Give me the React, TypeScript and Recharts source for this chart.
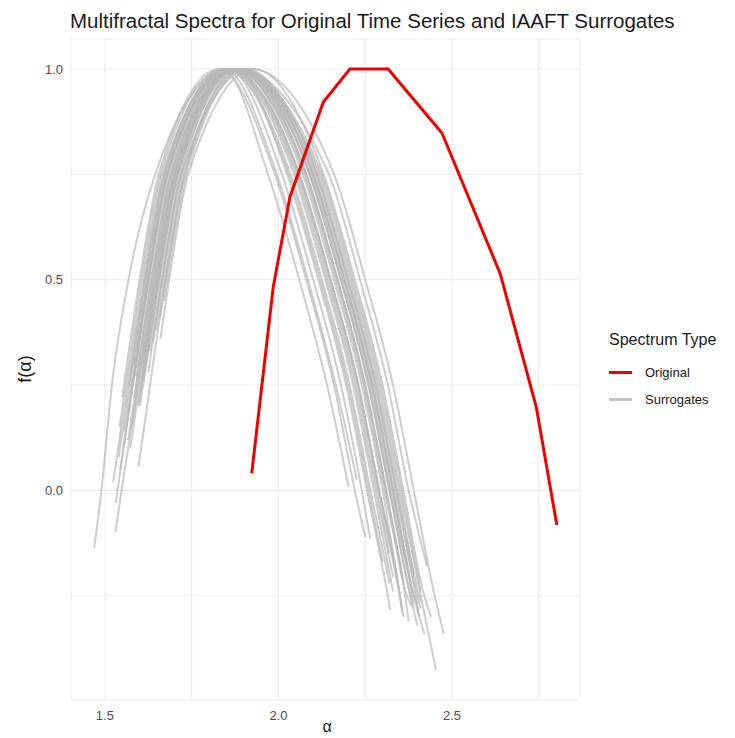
import React from 'react';
import { LineChart, Line, XAxis, YAxis, CartesianGrid, Legend, Label } from 'recharts';

const FONT = '"Liberation Sans", Arial, sans-serif';

const xTicks = [1.5, 1.75, 2.0, 2.25, 2.5, 2.75];
const yTicks = [-0.25, 0, 0.25, 0.5, 0.75, 1.0];
const xMajor = [1.5, 2.0, 2.5];
const yMajor = [0, 0.5, 1.0];

// [alpha, f(alpha)]
const originalSpectrum = [
  [1.923, 0.041], [1.985, 0.483], [2.033, 0.696], [2.129, 0.921], [2.206, 1.0],
  [2.316, 1.0], [2.471, 0.848], [2.639, 0.514], [2.743, 0.197], [2.802, -0.082],
];

const s01 = [[1.469, -0.137], [1.49, 0], [1.52, 0.25], [1.568, 0.5], [1.645, 0.75], [1.85, 1], [2.03, 0.75], [2.12, 0.5], [2.2, 0.25], [2.26, 0], [2.3, -0.17]];
const s02 = [[1.531, -0.03], [1.58, 0.25], [1.625, 0.5], [1.68, 0.75], [1.86, 1], [2.06, 0.75], [2.15, 0.5], [2.23, 0.25], [2.29, 0], [2.35, -0.25], [2.356, -0.29]];
const s03 = [[1.53, -0.1], [1.548, 0], [1.595, 0.25], [1.64, 0.5], [1.695, 0.75], [1.87, 1], [2.12, 0.75], [2.21, 0.5], [2.29, 0.25], [2.35, 0], [2.41, -0.25], [2.454, -0.426]];
const s04 = [[1.597, 0.057], [1.63, 0.25], [1.675, 0.5], [1.73, 0.75], [1.89, 1], [2.1, 0.75], [2.19, 0.5], [2.27, 0.25], [2.33, 0], [2.39, -0.25], [2.42, -0.34]];
const s05 = [[1.601, 0.2], [1.61, 0.25], [1.655, 0.5], [1.71, 0.75], [1.88, 1], [2.08, 0.75], [2.17, 0.5], [2.25, 0.25], [2.31, 0], [2.37, -0.25], [2.39, -0.28]];
const s06 = [[1.584, 0.3], [1.62, 0.5], [1.675, 0.75], [1.86, 1], [2.06, 0.75], [2.15, 0.5], [2.23, 0.25], [2.29, 0], [2.35, -0.25], [2.36, -0.3]];
const s07 = [[1.659, 0.41], [1.675, 0.5], [1.73, 0.75], [1.9, 1], [2.11, 0.75], [2.2, 0.5], [2.28, 0.25], [2.34, 0], [2.4, -0.25], [2.41, -0.28]];
const s08 = [[1.573, 0.1], [1.6, 0.25], [1.645, 0.5], [1.7, 0.75], [1.87, 1], [2.07, 0.75], [2.16, 0.5], [2.24, 0.25], [2.3, 0], [2.34, -0.2]];
const s09 = [[1.598, 0.21], [1.605, 0.25], [1.65, 0.5], [1.705, 0.75], [1.88, 1], [2.09, 0.75], [2.18, 0.5], [2.26, 0.25], [2.32, 0], [2.38, -0.25], [2.4, -0.32]];
const s10 = [[1.544, 0.05], [1.58, 0.25], [1.625, 0.5], [1.68, 0.75], [1.855, 1], [2.01, 0.75], [2.1, 0.5], [2.18, 0.25], [2.24, 0], [2.264, -0.113]];
const s11 = [[1.542, 0.15], [1.56, 0.25], [1.605, 0.5], [1.66, 0.75], [1.84, 1], [1.97, 0.75], [2.06, 0.5], [2.14, 0.25], [2.202, 0.009]];
const s12 = [[1.57, 0.25], [1.615, 0.5], [1.67, 0.75], [1.845, 1], [1.995, 0.75], [2.085, 0.5], [2.165, 0.25], [2.226, 0.025]];
const s13 = [[1.638, 0.35], [1.665, 0.5], [1.72, 0.75], [1.92, 1], [2.16, 0.75], [2.25, 0.5], [2.33, 0.25], [2.39, 0], [2.45, -0.25], [2.476, -0.34]];
const s14 = [[1.625, 0.28], [1.665, 0.5], [1.72, 0.75], [1.88, 1], [2.145, 0.75], [2.235, 0.5], [2.315, 0.25], [2.375, 0], [2.428, -0.18]];
const s15 = [[1.585, 0.22], [1.59, 0.25], [1.635, 0.5], [1.69, 0.75], [1.87, 1], [2.09, 0.75], [2.18, 0.5], [2.26, 0.25], [2.32, 0], [2.38, -0.25], [2.383, -0.26]];
const s16 = [[1.613, 0.32], [1.645, 0.5], [1.7, 0.75], [1.875, 1], [2.1, 0.75], [2.19, 0.5], [2.27, 0.25], [2.33, 0], [2.39, -0.25], [2.4, -0.27]];
const s17 = [[1.567, 0.12], [1.59, 0.25], [1.635, 0.5], [1.69, 0.75], [1.865, 1], [2.05, 0.75], [2.14, 0.5], [2.22, 0.25], [2.28, 0], [2.33, -0.205]];
const s18 = [[1.612, 0.26], [1.655, 0.5], [1.71, 0.75], [1.885, 1], [2.115, 0.75], [2.205, 0.5], [2.285, 0.25], [2.345, 0], [2.405, -0.25], [2.41, -0.264]];
const s19 = [[1.567, 0.18], [1.58, 0.25], [1.625, 0.5], [1.68, 0.75], [1.86, 1], [2.08, 0.75], [2.17, 0.5], [2.25, 0.25], [2.31, 0], [2.36, -0.217]];
const s20 = [[1.648, 0.38], [1.67, 0.5], [1.725, 0.75], [1.895, 1], [2.09, 0.75], [2.18, 0.5], [2.26, 0.25], [2.32, 0], [2.37, -0.18]];
const s21 = [[1.603, 0.24], [1.65, 0.5], [1.705, 0.75], [1.875, 1], [2.025, 0.75], [2.115, 0.5], [2.195, 0.25], [2.255, 0], [2.315, -0.25], [2.322, -0.283]];
const s22 = [[1.54, 0.08], [1.57, 0.25], [1.615, 0.5], [1.67, 0.75], [1.85, 1], [2.055, 0.75], [2.145, 0.5], [2.225, 0.25], [2.285, 0], [2.32, -0.15]];
const s23 = [[1.609, 0.3], [1.645, 0.5], [1.7, 0.75], [1.88, 1], [2.125, 0.75], [2.215, 0.5], [2.295, 0.25], [2.355, 0], [2.41, -0.24]];
const s24 = [[1.589, 0.27], [1.63, 0.5], [1.685, 0.75], [1.865, 1], [2.075, 0.75], [2.165, 0.5], [2.245, 0.25], [2.305, 0], [2.365, -0.25], [2.375, -0.31]];
const s25 = [[1.671, 0.45], [1.68, 0.5], [1.735, 0.75], [1.905, 1], [2.1, 0.75], [2.19, 0.5], [2.27, 0.25], [2.33, 0], [2.38, -0.22]];
const s26 = [[1.577, 0.15], [1.595, 0.25], [1.64, 0.5], [1.695, 0.75], [1.87, 1], [2.105, 0.75], [2.195, 0.5], [2.275, 0.25], [2.335, 0], [2.395, -0.25], [2.405, -0.3]];
const s27 = [[1.524, 0.02], [1.565, 0.25], [1.61, 0.5], [1.665, 0.75], [1.855, 1], [2.045, 0.75], [2.135, 0.5], [2.215, 0.25], [2.275, 0], [2.33, -0.24]];
const s28 = [[1.629, 0.33], [1.66, 0.5], [1.715, 0.75], [1.89, 1], [2.08, 0.75], [2.17, 0.5], [2.25, 0.25], [2.31, 0], [2.355, -0.19]];
const s29 = [[1.596, 0.2], [1.605, 0.25], [1.65, 0.5], [1.705, 0.75], [1.88, 1], [2.06, 0.75], [2.15, 0.5], [2.23, 0.25], [2.29, 0], [2.35, -0.25]];
const s30 = [[1.582, 0.26], [1.625, 0.5], [1.68, 0.75], [1.86, 1], [2.095, 0.75], [2.185, 0.5], [2.265, 0.25], [2.325, 0], [2.385, -0.25], [2.388, -0.27]];
const s31 = [[1.621, 0.31], [1.655, 0.5], [1.71, 0.75], [1.875, 1], [2.11, 0.75], [2.2, 0.5], [2.28, 0.25], [2.34, 0], [2.39, -0.2]];
const s32 = [[1.555, 0.14], [1.575, 0.25], [1.62, 0.5], [1.675, 0.75], [1.85, 1], [2.035, 0.75], [2.125, 0.5], [2.205, 0.25], [2.265, 0], [2.32, -0.22]];
const s33 = [[1.66, 0.36], [1.685, 0.5], [1.74, 0.75], [1.93, 1], [2.13, 0.75], [2.22, 0.5], [2.3, 0.25], [2.36, 0], [2.42, -0.25], [2.44, -0.3]];
const s34 = [[1.55, 0.22], [1.555, 0.25], [1.6, 0.5], [1.655, 0.75], [1.83, 1], [1.99, 0.75], [2.08, 0.5], [2.16, 0.25], [2.22, 0], [2.25, -0.11]];

const surrogates = [
  s01, s02, s03, s04, s05, s06, s07, s08, s09, s10, s11, s12, s13, s14, s15, s16, s17,
  s18, s19, s20, s21, s22, s23, s24, s25, s26, s27, s28, s29, s30, s31, s32, s33, s34,
];

const RED = '#F00000';
const GREY = '#B8B8B8';

const legendItems = [
  { name: 'Original', color: RED, width: 3 },
  { name: 'Surrogates', color: '#C4C4C4', width: 2.5 },
];

const toPoints = (arr: number[][]) => arr.map(([alpha, f]) => ({ alpha, f }));

const fmt = (major: number[]) => (v: number) =>
  major.some((m) => Math.abs(m - v) < 1e-9) ? v.toFixed(1) : '';

const renderLegend = () => (
  <div style={{ fontFamily: FONT, color: '#1a1a1a' }}>
    <div style={{ fontSize: 16, lineHeight: '18px', marginBottom: 10 }}>Spectrum Type</div>
    {legendItems.map((item) => (
      <div key={item.name} style={{ display: 'flex', alignItems: 'center', height: 27 }}>
        <div style={{ width: 23, height: item.width, background: item.color, marginRight: 13 }} />
        <span style={{ fontSize: 13 }}>{item.name}</span>
      </div>
    ))}
  </div>
);

export default function App() {
  return (
    <div style={{ position: 'absolute', left: 0, top: 0, width: 735, height: 738, background: '#fff' }}>
      <div
        style={{
          position: 'absolute', left: 70, top: 9, fontFamily: FONT, fontSize: 20.5,
          color: '#1a1a1a', whiteSpace: 'nowrap', zIndex: 1,
        }}
      >
        Multifractal Spectra for Original Time Series and IAAFT Surrogates
      </div>
      <LineChart width={735} height={738} margin={{ top: 39, right: 155, bottom: 0, left: 21 }}>
        <CartesianGrid stroke="#EBEBEB" strokeWidth={1} />
        <XAxis
          type="number"
          dataKey="alpha"
          domain={[1.4023, 2.8687]}
          allowDataOverflow
          ticks={xTicks}
          interval={0}
          tickFormatter={fmt(xMajor)}
          axisLine={false}
          tickLine={false}
          tickSize={0}
          tickMargin={11}
          height={38}
          tick={{ fill: '#4D4D4D', fontSize: 13, fontFamily: FONT }}
        >
          <Label
            content={() => (
              <text x={327} y={732} textAnchor="middle" fontSize={16} fontFamily={FONT} fill="#1a1a1a">
                α
              </text>
            )}
          />
        </XAxis>
        <YAxis
          type="number"
          dataKey="f"
          domain={[-0.497, 1.071]}
          allowDataOverflow
          ticks={yTicks}
          interval={0}
          tickFormatter={fmt(yMajor)}
          axisLine={false}
          tickLine={false}
          tickSize={0}
          tickMargin={8}
          width={50}
          tick={{ fill: '#4D4D4D', fontSize: 13, fontFamily: FONT }}
        >
          <Label
            content={() => (
              <text
                x={25}
                y={369}
                transform="rotate(-90 25 369)"
                textAnchor="middle"
                dominantBaseline="central"
                fontSize={18}
                fontFamily={FONT}
                fill="#1a1a1a"
              >
                f(α)
              </text>
            )}
          />
        </YAxis>
        {surrogates.map((s, i) => (
          <Line
            key={`sur-${i}`}
            data={toPoints(s)}
            dataKey="f"
            type="monotone"
            stroke={GREY}
            strokeOpacity={0.7}
            strokeWidth={2}
            dot={false}
            activeDot={false}
            legendType="none"
            isAnimationActive={false}
          />
        ))}
        <Line
          data={toPoints(originalSpectrum)}
          dataKey="f"
          type="linear"
          stroke={RED}
          strokeWidth={3}
          strokeLinejoin="round"
          dot={false}
          activeDot={false}
          isAnimationActive={false}
        />
        <Legend
          layout="vertical"
          align="center"
          verticalAlign="middle"
          content={renderLegend}
          wrapperStyle={{ left: 609, top: 331, width: 126, height: 90 }}
        />
      </LineChart>
    </div>
  );
}
